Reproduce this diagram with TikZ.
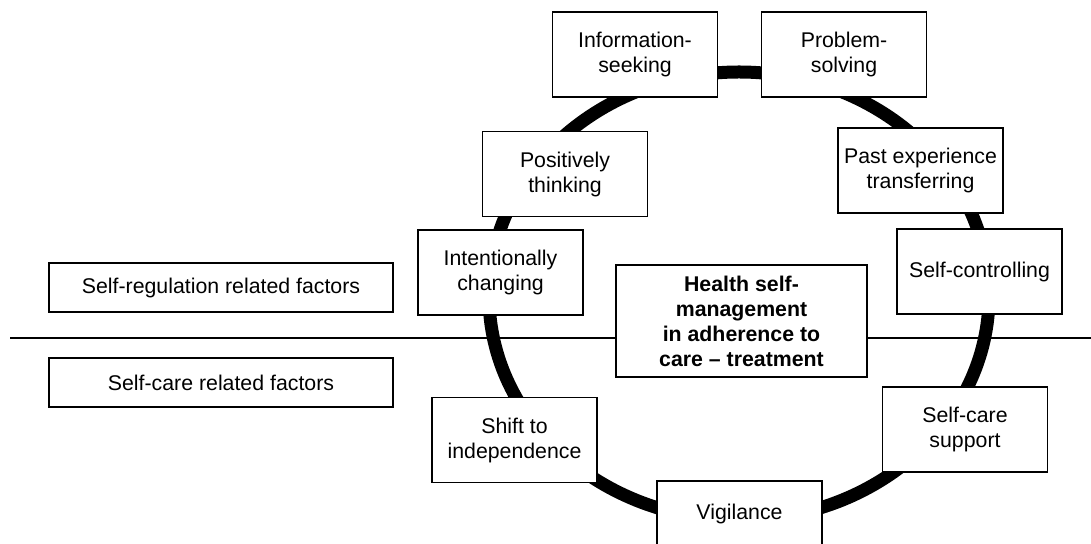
\documentclass[tikz,border=0pt]{standalone}
\usepackage{fontspec}
\setmainfont{Liberation Sans}
\usepackage{xcolor}
\usepackage{tikz}

\begin{document}
\begin{tikzpicture}[
  factor/.style={draw,fill=white,line width=0.65pt,inner sep=0pt,align=center,
    minimum width=82.5pt,minimum height=42.5pt,
    font=\fontsize{10.65}{12.5}\selectfont},
  side/.style={factor,minimum width=172pt,minimum height=24.5pt},
  core/.style={factor,minimum width=125.5pt,minimum height=56pt,
    font=\fontsize{10.65}{12.5}\selectfont\bfseries},
  ring/.style={line width=6.5pt},
  x=0.5pt,y=-0.5pt]

  \useasboundingbox[fill=white] (0,0) rectangle (1091,544);
  \clip (0,0) rectangle (1091,544);

  % ------------------- ring ----------------------
  \draw[ring] (739,296) ellipse [x radius=125pt,y radius=112pt];

  % ------------------- divider ----------------------
  \node[core] (health) at (741.5,321) {Health self-\\management\\in adherence to\\care -- treatment};
  \coordinate (lineL) at (10,338);
  \coordinate (lineR) at (1091,338);
  \draw[line width=0.65pt] (lineL) -- (lineL -| health.west);
  \draw[line width=0.65pt] (lineR -| health.east) -- (lineR);

  % ------------------- factors ----------------------
  \node[factor] (info)    at (635,54.5)    {Information-\\seeking};
  \node[factor] (problem) at (844,54.5)    {Problem-\\solving};
  \node[factor] (positive) at (565,174)    {Positively\\thinking};
  \node[factor] (past)    at (920.5,170.5) {Past experience\\transferring};
  \node[factor] (intent)  at (500.5,272.5) {Intentionally\\changing};
  \node[factor] (control) at (979.5,271.5) {Self-controlling};
  \node[factor] (shift)   at (514.5,440)   {Shift to\\independence};
  \node[factor] (support) at (965,429.5)   {Self-care\\support};
  \node[factor,minimum height=32.5pt] (vigil) at (739.5,513.5) {Vigilance};

  % ------------------- legend ----------------------
  \node[side] (regulation) at (221,287.5) {Self-regulation related factors};
  \node[side] (selfcare)   at (221,382.5) {Self-care related factors};
\end{tikzpicture}
\end{document}
